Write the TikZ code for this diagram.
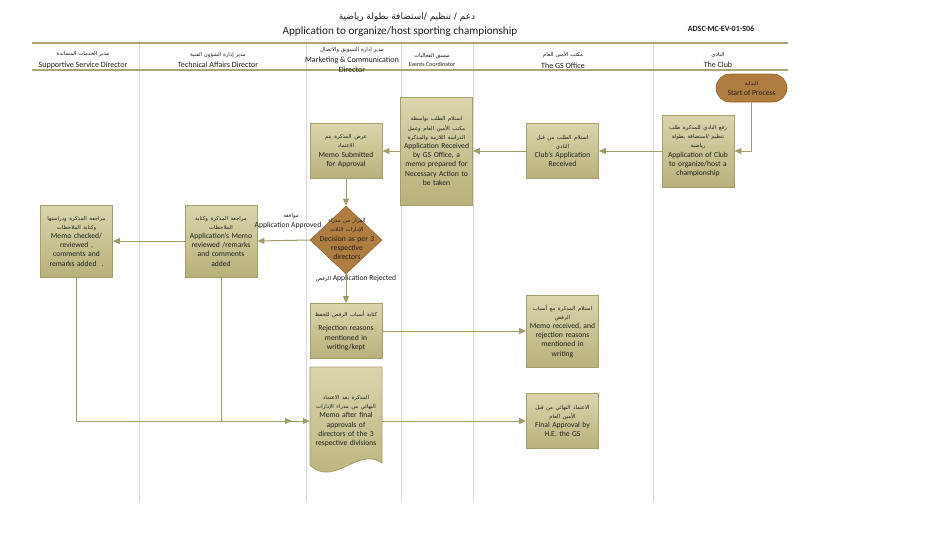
\documentclass[tikz,border=0pt]{standalone}
\usepackage{fontspec}
\setmainfont{Carlito}
\newfontfamily\arabicfont[Script=Arabic]{DejaVu Sans}
\TeXXeTstate=1
\usetikzlibrary{arrows.meta,shapes.geometric,shapes.misc}
\definecolor{lnol}{HTML}{A29C68}
\definecolor{hdrline}{HTML}{ABA577}
\definecolor{boxtop}{HTML}{DAD5AC}
\definecolor{boxbot}{HTML}{B9B17B}
\definecolor{boxline}{HTML}{A59E6B}
\definecolor{brownfill}{HTML}{AF7D40}
\definecolor{brownline}{HTML}{94692F}
\definecolor{lanegray}{HTML}{D9D9D9}
\definecolor{txt}{HTML}{1E1E1E}
\newcommand\artxt[1]{{\arabicfont\fontsize{5.4}{9}\selectfont\beginR #1\endR}}
\pgfdeclarelayer{bg}
\pgfsetlayers{bg,main}
\begin{document}
\begin{tikzpicture}[x=1pt,y=-1pt,
  proc/.style={draw=boxline, line width=0.8pt, top color=boxtop, bottom color=boxbot,
    inner sep=1pt, align=center, text width=70pt, minimum width=72pt,
    font=\fontsize{7.6}{9.2}\selectfont, text=txt},
  brownshape/.style={fill=brownfill, draw=brownline, line width=0.6pt},
  conn/.style={draw=lnol, line width=1pt, -{Triangle[length=7pt,width=6pt]}},
  lane/.style={draw=lanegray, line width=0.8pt},
  hline/.style={draw=hdrline, line width=1.3pt},
  hdr/.style={align=center, font=\fontsize{8}{11.5}\selectfont, text=txt, inner sep=0pt},
  lbl/.style={align=center, font=\fontsize{7.6}{9.2}\selectfont, text=txt, inner sep=0pt}
]
\useasboundingbox (0,0) rectangle (943,539);

% header
\node[font=\arabicfont\fontsize{9}{10}\selectfont, text=txt] (tar) at (407,17) {\beginR دعم / تنظيم /استضافة بطولة رياضية\endR};
\node[font=\fontsize{11.2}{13}\selectfont, text=txt] (ten) at (400,32) {Application to organize/host sporting championship};
\node[font=\fontsize{8}{9}\selectfont\bfseries, text=txt] (code) at (721,29) {ADSC-MC-EV-01-S06};

% lanes
\foreach \lx in {139,306,401,473,653} \draw[lane] (\lx,43) -- (\lx,502);
\draw[hline] (32,43) -- (788,43);
\draw[hline] (32,70) -- (788,70);

\node[hdr] (hsup) at (83,60) {\artxt{مدير الخدمات المساندة}\\Supportive Service Director};
\node[hdr] (htech) at (218,60) {\artxt{مدير إدارة الشؤون الفنية}\\Technical Affairs Director};
\node[hdr, font=\fontsize{8}{10.8}\selectfont] (hmkt) at (352,60) {\artxt{مدير إدارة التسويق والاتصال}\\Marketing \& Communication\\Director};
\node[hdr, font=\fontsize{6}{8.5}\selectfont] (hev) at (432,60) {\artxt{منسق الفعاليات}\\Events Coordinator};
\node[hdr] (hgs) at (563,60) {\artxt{مكتب الأمين العام}\\The GS Office};
\node[hdr] (hclub) at (718,60) {\artxt{النادي}\\The Club};

% nodes
\node[rounded rectangle, brownshape, minimum width=73pt, minimum height=28pt, inner sep=1pt,
  align=center, font=\fontsize{7.6}{10}\selectfont, text=txt] (start) at (751.5,88)
  {\artxt{البداية}\\Start of Process};

\node[proc, minimum height=72pt] (club) at (698,151)
  {\artxt{رفع النادي للمذكرة طلب}\\\artxt{تنظيم /استضافة بطولة}\\\artxt{رياضية}\\Application of Club\\to organize/host a\\championship};

\node[proc, minimum height=55pt] (gs1) at (562.5,151)
  {\artxt{استلام الطلب من قبل}\\\artxt{النادي}\\Club's Application\\Received};

\node[proc, minimum height=108pt] (ev) at (436.5,151)
  {\artxt{استلام الطلب بواسطة}\\\artxt{مكتب الأمين العام وعمل}\\\artxt{الدراسة اللازمة والمذكرة}\\Application Received\\by GS Office, a\\memo prepared for\\Necessary Action to\\be taken};

\node[proc, minimum height=55pt] (memo) at (346,151)
  {\artxt{عرض المذكرة يتم}\\\artxt{الاعتماد}\\Memo Submitted\\for Approval};

\node[diamond, brownshape, minimum width=72pt, minimum height=68pt, inner sep=0pt] (dec) at (346,240) {};
\node[lbl, text width=72pt] (dectxt) at (347,239)
  {\artxt{القرار من مدراء}\\\artxt{الإدارات الثلاث}\\Decision as per 3\\respective\\directors};

\node[proc, minimum height=72pt] (tech) at (221,241)
  {\artxt{مراجعة المذكرة وكتابة}\\\artxt{الملاحظات}\\Application's Memo\\reviewed /remarks\\and comments\\added};

\node[proc, minimum height=72pt] (sup) at (76.5,241)
  {\artxt{مراجعة المذكرة ودراستها}\\\artxt{وكتابة الملاحظات}\\Memo checked/\\reviewed ,\\comments and\\remarks added\ \ .};

\node[proc, minimum height=55pt] (rej) at (346,331)
  {\artxt{كتابة أسباب الرفض للحفظ}\\[5pt]Rejection reasons\\mentioned in\\writing/kept};

\node[proc, minimum height=72pt] (gs2) at (562.5,331)
  {\artxt{استلام المذكرة مع أسباب}\\\artxt{الرفض}\\Memo received, and\\rejection reasons\\mentioned in\\writing};

\node[lbl, text width=70pt, minimum width=72pt, minimum height=108pt] (doc) at (346,421)
  {\artxt{المذكرة بعد الاعتماد}\\\artxt{النهائي من مدراء الإدارات}\\Memo after final\\approvals of\\directors of the 3\\respective divisions\\[12pt]};
\begin{pgfonlayer}{bg}
\path[draw=boxline, line width=0.8pt, top color=boxtop, bottom color=boxbot]
  (310,367) -- (382,367) -- (382,463) .. controls (358,446) and (334,488) .. (310,465) -- cycle;
\end{pgfonlayer}

\node[proc, minimum height=55pt] (fin) at (562.5,421)
  {\artxt{الاعتماد النهائي من قبل}\\\artxt{الأمين العام}\\Final Approval by\\H.E. the GS};

% labels
\node[lbl] (lapp1) at (291,216) {\artxt{موافقة}};
\node[lbl] (lapp2) at (288,225.5) {Application Approved};
\node[lbl] (lrej) at (356,278.5) {\artxt{الرفض} Application Rejected};

% connectors
\coordinate (techend) at (292,421);
\draw[conn] (start.south) |- (club.east);
\draw[conn] (club.west) -- (gs1.east);
\draw[conn] (gs1.west) -- (ev.east);
\draw[conn] (ev.west) -- (memo.east);
\draw[conn] (memo.south) -- (dec.north);
\draw[conn] (dec.west) -- (tech.east);
\draw[conn] (tech.west) -- (sup.east);
\draw[conn] (dec.south) -- (rej.north);
\draw[conn] (rej.east) -- (gs2.west);
\draw[conn] (sup.south) |- (doc.west);
\draw[conn] (tech.south) |- (techend);
\draw[conn] (doc.east) -- (fin.west);
\end{tikzpicture}
\end{document}
